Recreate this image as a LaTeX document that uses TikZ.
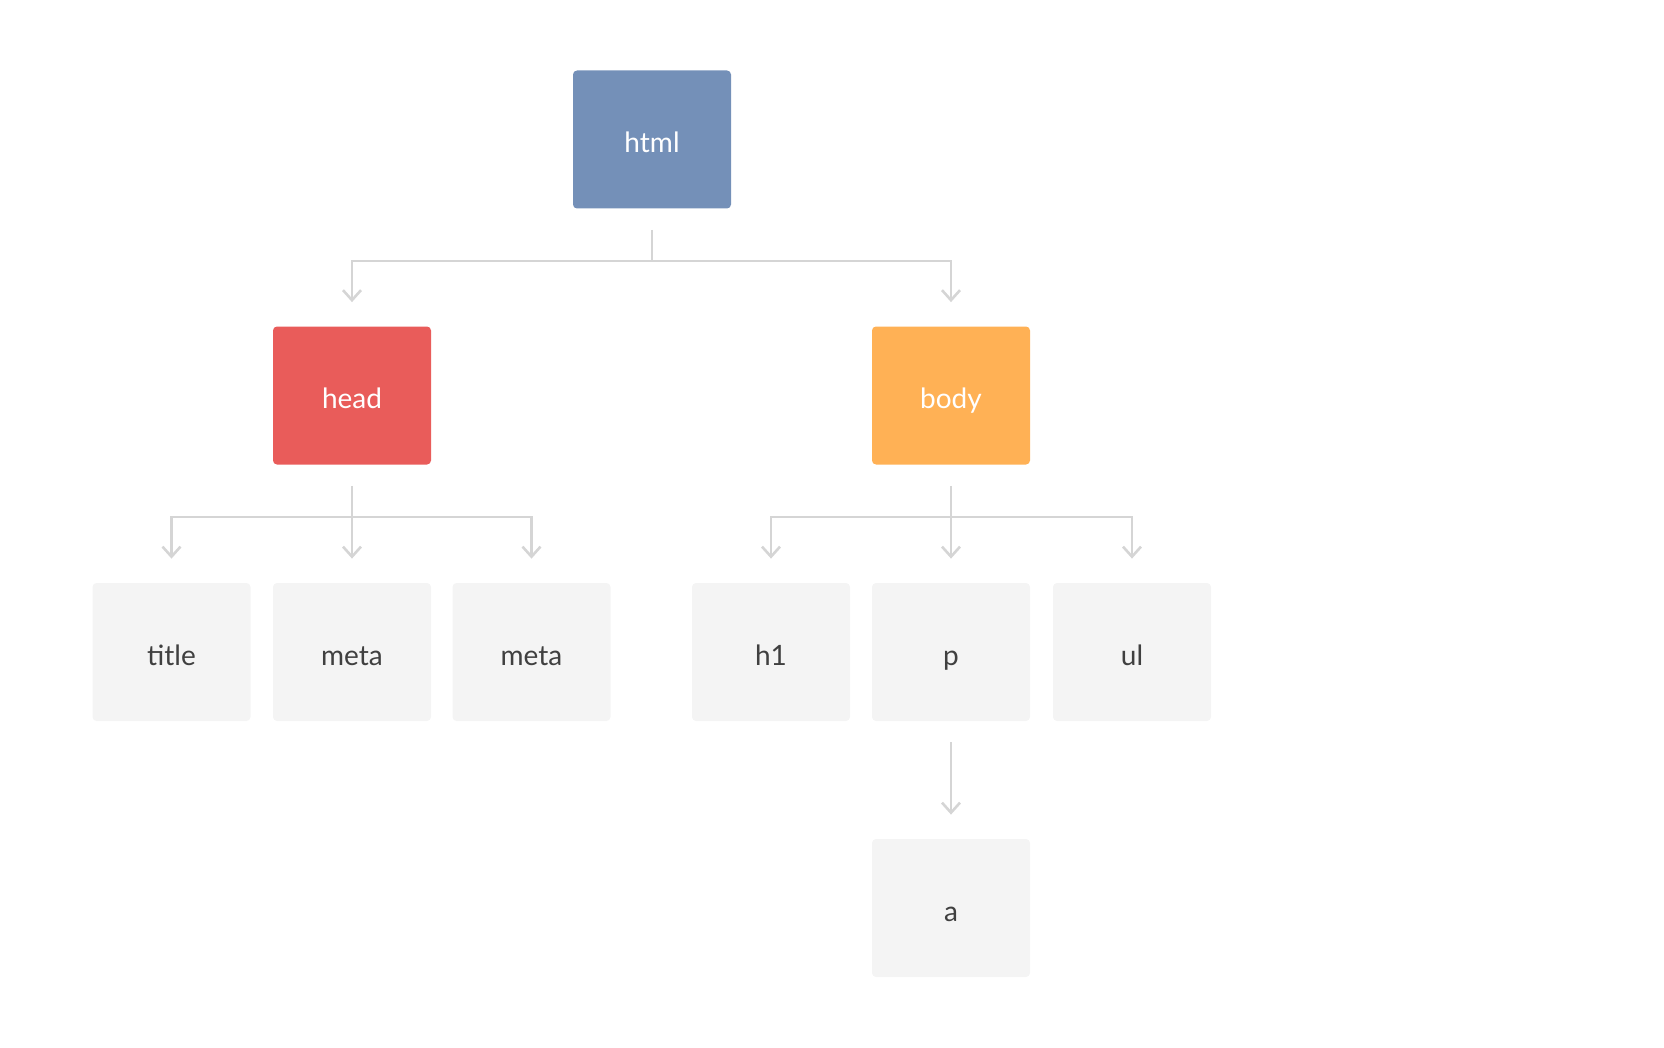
\documentclass[tikz,border=0pt]{standalone}
\usepackage{fontspec}
\setmainfont{Lato}
\usepackage{tikz}
\usetikzlibrary{arrows.meta,positioning,calc}
\definecolor{htmlblue}{HTML}{7490B8}
\definecolor{headred}{HTML}{E95C5A}
\definecolor{bodyorange}{HTML}{FFB155}
\definecolor{leafgray}{HTML}{F4F4F4}
\definecolor{leaftext}{HTML}{404040}
\definecolor{linkgray}{HTML}{D5D5D5}

\begin{document}
\begin{tikzpicture}[x=0.5pt,y=-0.5pt,
  box/.style={rounded corners=2pt,minimum width=79pt,minimum height=69pt,inner sep=0pt,
    text height=14pt,text depth=0.8pt,font=\fontsize{14}{16}\selectfont},
  tagbox/.style={box,fill=#1,text=white},
  leafbox/.style={box,fill=leafgray,text=leaftext},
  link/.style={draw=linkgray,line width=1.3pt},
  linkarrow/.style={link,-{Straight Barb[length=5pt,width=9pt,line width=1.3pt]}}]
  \useasboundingbox (0,0) rectangle (1664,1048);
  \node[tagbox=htmlblue] (html) at (652,139.5) {html};
  \node[tagbox=headred] (head) at (352,395.5) {head};
  \node[tagbox=bodyorange] (body) at (951,395.5) {body};
  \foreach \n/\x/\t in {title/171.5/title,meta1/352/meta,meta2/531.5/meta,h1/771/h1,p/951/p,ul/1132/ul}{
    \node[leafbox] (\n) at (\x,652) {\t};
  }
  \node[leafbox] (a) at (951,908) {a};
  % tree connectors
  \foreach \src/\kids in {html/{head,body},head/{title,meta1,meta2},body/{h1,p,ul}}{
    \draw[link] ([yshift=-10.5pt]\src.south) -- ([yshift=-26pt]\src.south);
    \foreach \k in \kids
      \draw[linkarrow] ([yshift=-26pt]\src.south) -| ([yshift=12pt]\k.north);
  }
  \draw[linkarrow] ([yshift=-10.5pt]p.south) -- ([yshift=12pt]a.north);
\end{tikzpicture}
\end{document}
